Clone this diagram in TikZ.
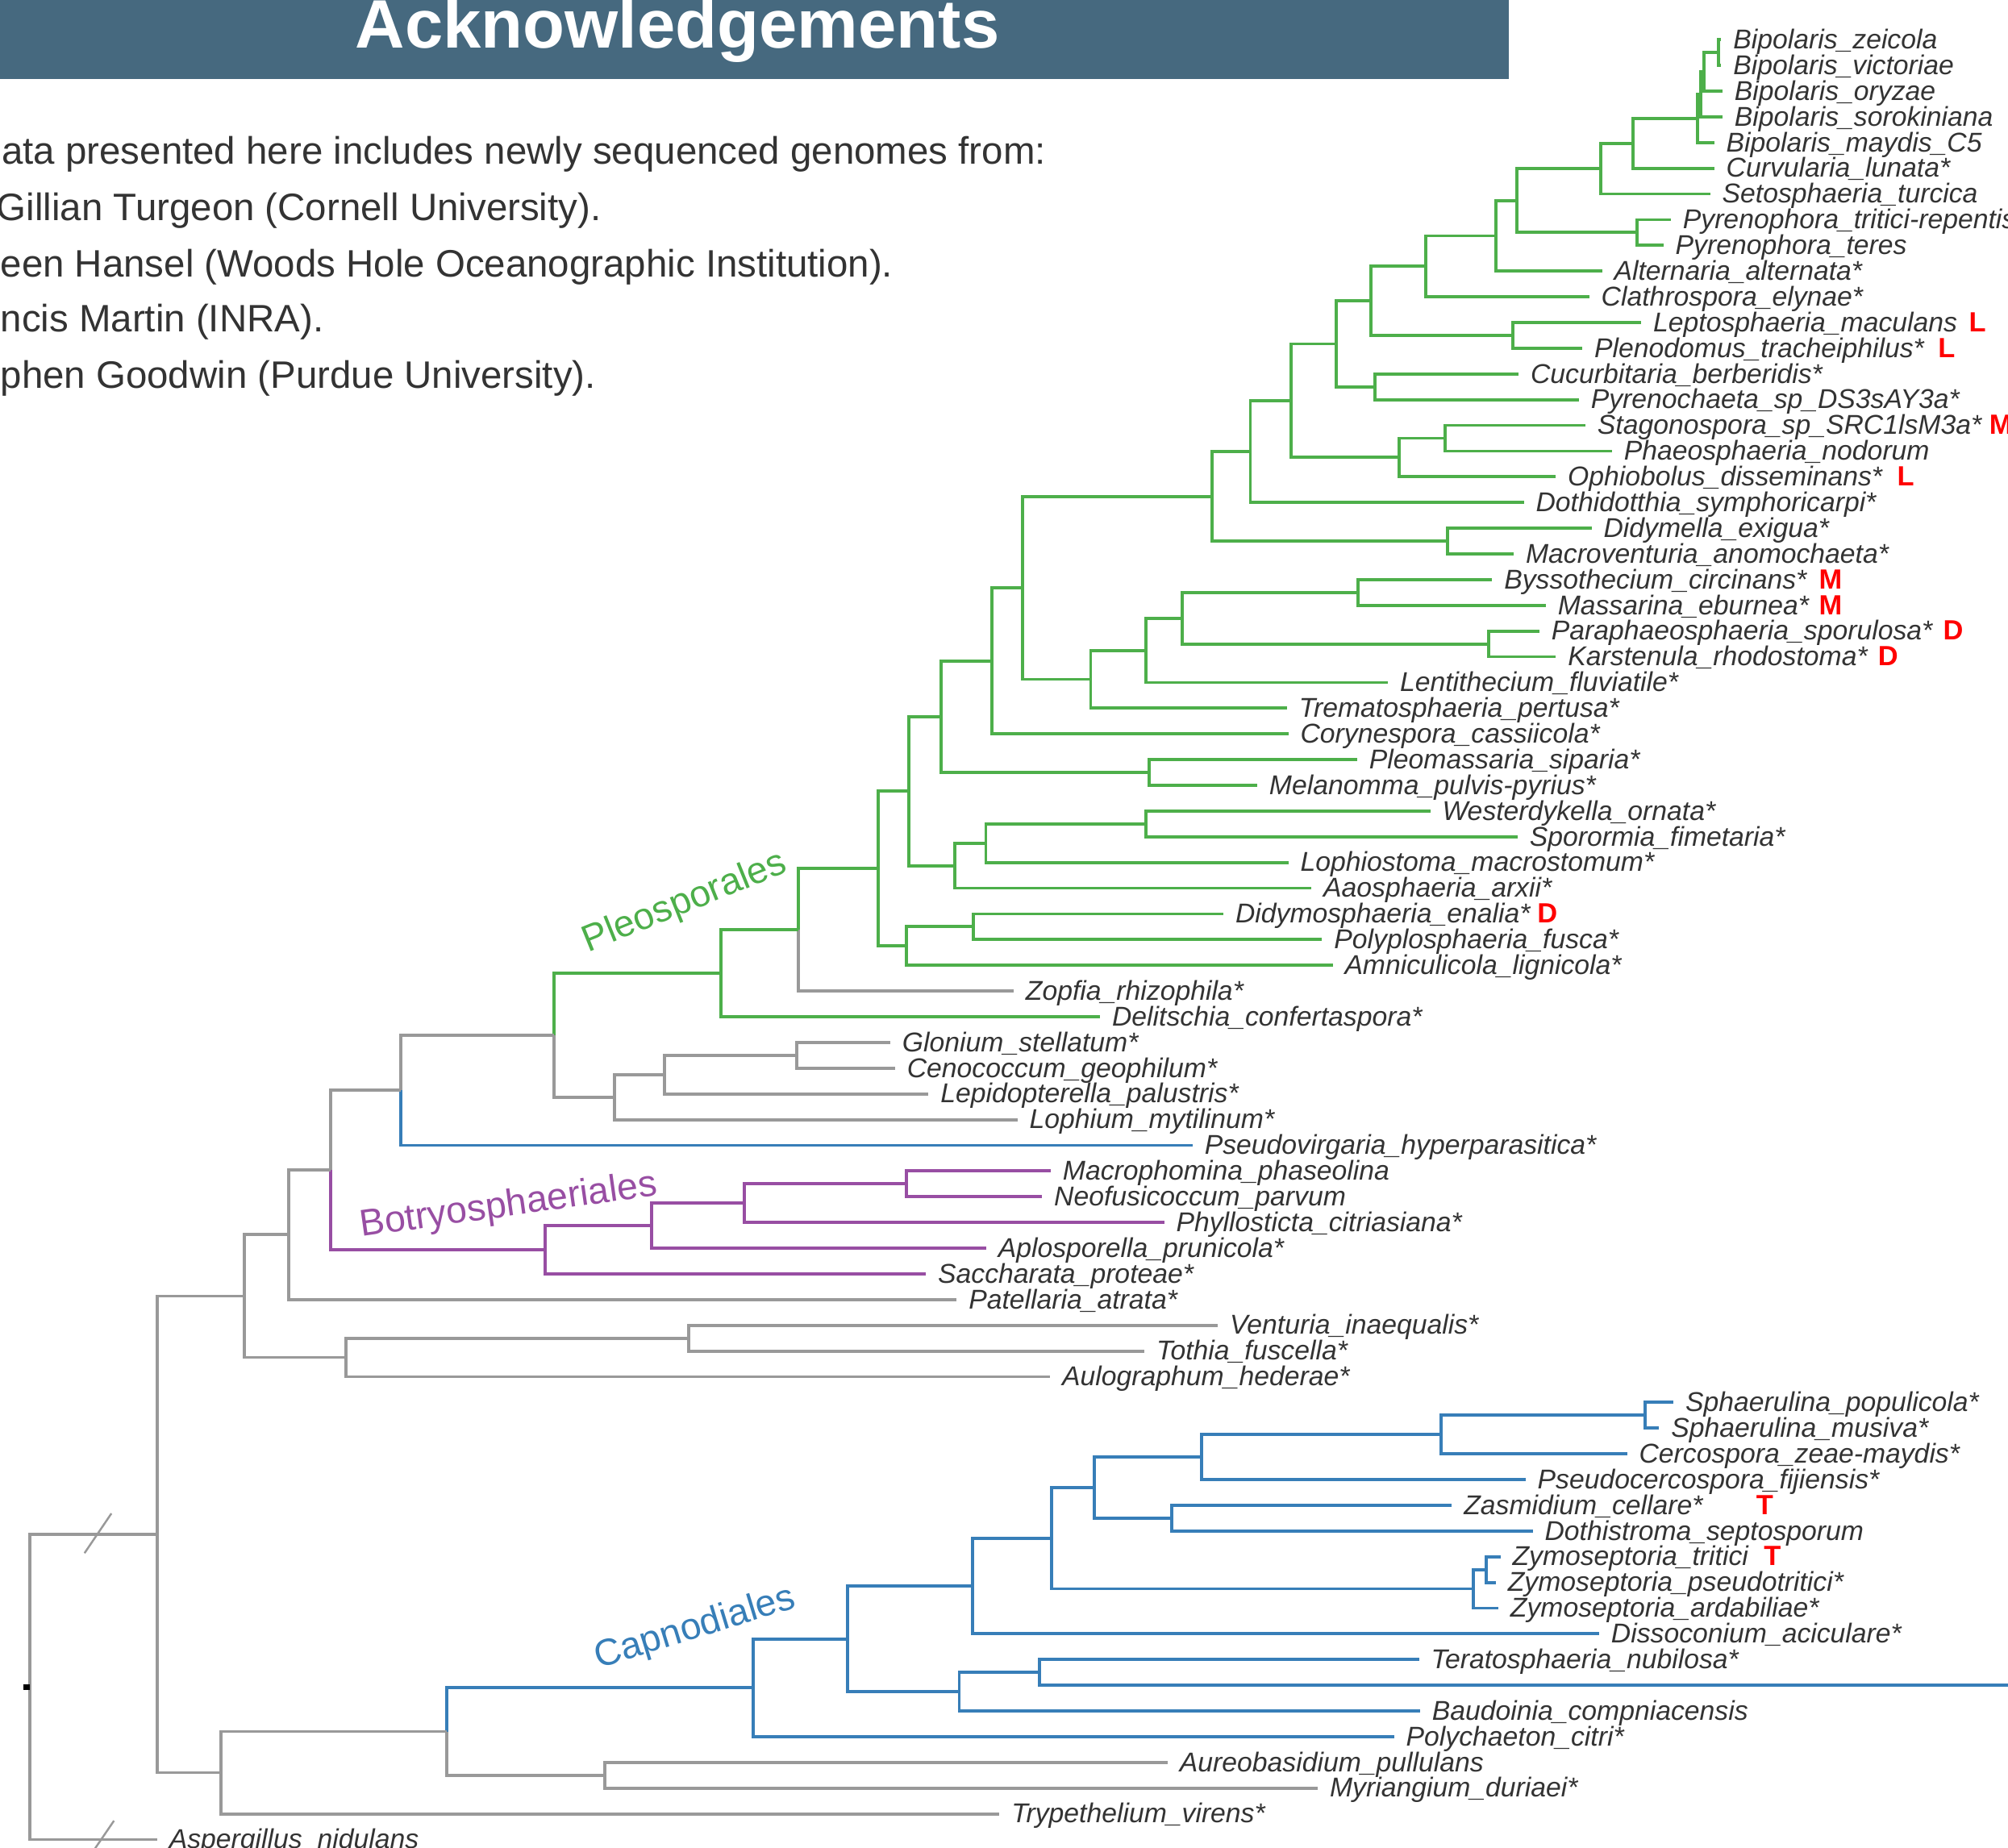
\documentclass[tikz,border=0pt]{standalone}
\usepackage{fontspec}
\setmainfont{Liberation Sans}
\usepackage{tikz}

\definecolor{pleo}{HTML}{4DAF4A}
\definecolor{capno}{HTML}{377EB8}
\definecolor{botry}{HTML}{984EA3}
\definecolor{stem}{HTML}{999999}
\definecolor{banner}{HTML}{46697F}
\definecolor{ink}{HTML}{333333}

\begin{document}
\begin{tikzpicture}[x=0.01588cm, y=-0.01588cm,
    leaf/.style={anchor=west, inner xsep=1.5mm, inner ysep=0pt, outer sep=0pt, text height=8.4pt, text depth=2pt, text=ink, font=\itshape\fontsize{9.6}{10}\selectfont},
    redtag/.style={anchor=west, inner sep=0pt, text height=8.4pt, text depth=2pt, text=red, font=\bfseries\fontsize{9.8}{10}\selectfont},
    clade/.style={anchor=base west, inner sep=0pt, font=\fontsize{13.2}{15}\selectfont},
    bodytext/.style={anchor=base west, inner sep=0pt, text=ink, font=\fontsize{13.5}{16}\selectfont},
    branch/.style={line width=1.1pt}]

\useasboundingbox (0, 0) rectangle (1568, 1443);
\fill[white] (0, 0) rectangle (1568, 1443);
\clip (0, 0) rectangle (1568, 1443);

\fill[banner] (0, 0) rectangle (1178, 62);
\node[anchor=base, inner sep=0pt, text=white, font=\bfseries\fontsize{24.2}{28}\selectfont] (title) at (529, 37.5) {Acknowledgements};

\node[bodytext] (line1) at (1, 128) {ata presented here includes newly sequenced genomes from:};
\node[bodytext] (line2) at (-3, 172) {Gillian Turgeon (Cornell University).};
\node[bodytext] (line3) at (0, 216) {een Hansel (Woods Hole Oceanographic Institution).};
\node[bodytext] (line4) at (0, 259) {ncis Martin (INRA).};
\node[bodytext] (line5) at (0, 303) {phen Goodwin (Purdue University).};

\begin{scope}[y=-0.31897cm, yshift=-0.17331cm]

\node[leaf] (zei) at (1344, 1) {Bipolaris\_zeicola};
\node[leaf] (vic) at (1344, 2) {Bipolaris\_victoriae};
\node[leaf] (ory) at (1345, 3) {Bipolaris\_oryzae};
\node[leaf] (sor) at (1345, 4) {Bipolaris\_sorokiniana};
\node[leaf] (may) at (1338.6, 5) {Bipolaris\_maydis\_C5};
\node[leaf] (cur) at (1338.6, 6) {Curvularia\_lunata*};
\node[leaf] (set) at (1335.4, 7) {Setosphaeria\_turcica};
\node[leaf] (ptr) at (1304.7, 8) {Pyrenophora\_tritici-repentis};
\node[leaf] (pte) at (1298.9, 9) {Pyrenophora\_teres};
\node[leaf] (alt) at (1251, 10) {Alternaria\_alternata*};
\node[leaf] (cla) at (1241, 11) {Clathrospora\_elynae*};
\node[leaf] (lep) at (1281.6, 12) {Leptosphaeria\_maculans};
\node[leaf] (ple) at (1235.6, 13) {Plenodomus\_tracheiphilus*};
\node[leaf] (cuc) at (1185.8, 14) {Cucurbitaria\_berberidis*};
\node[leaf] (pyr) at (1232.9, 15) {Pyrenochaeta\_sp\_DS3sAY3a*};
\node[leaf] (sta) at (1238, 16) {Stagonospora\_sp\_SRC1lsM3a*};
\node[leaf] (pha) at (1258.7, 17) {Phaeosphaeria\_nodorum};
\node[leaf] (oph) at (1214.8, 18) {Ophiobolus\_disseminans*};
\node[leaf] (dot) at (1189.9, 19) {Dothidotthia\_symphoricarpi*};
\node[leaf] (did) at (1242.8, 20) {Didymella\_exigua*};
\node[leaf] (mac) at (1182, 21) {Macroventuria\_anomochaeta*};
\node[leaf] (bys) at (1165.2, 22) {Byssothecium\_circinans*};
\node[leaf] (mas) at (1207, 23) {Massarina\_eburnea*};
\node[leaf] (par) at (1202, 24) {Paraphaeosphaeria\_sporulosa*};
\node[leaf] (kar) at (1215, 25) {Karstenula\_rhodostoma*};
\node[leaf] (len) at (1083.8, 26) {Lentithecium\_fluviatile*};
\node[leaf] (tre) at (1005, 27) {Trematosphaeria\_pertusa*};
\node[leaf] (cor) at (1006, 28) {Corynespora\_cassiicola*};
\node[leaf] (pls) at (1059.8, 29) {Pleomassaria\_siparia*};
\node[leaf] (mel) at (981.7, 30) {Melanomma\_pulvis-pyrius*};
\node[leaf] (wes) at (1116.8, 31) {Westerdykella\_ornata*};
\node[leaf] (spo) at (1185, 32) {Sporormia\_fimetaria*};
\node[leaf] (lop) at (1006, 33) {Lophiostoma\_macrostomum*};
\node[leaf] (aao) at (1024, 34) {Aaosphaeria\_arxii*};
\node[leaf] (dmo) at (955.3, 35) {Didymosphaeria\_enalia*};
\node[leaf] (pol) at (1032.4, 36) {Polyplosphaeria\_fusca*};
\node[leaf] (amn) at (1040.6, 37) {Amniculicola\_lignicola*};
\node[leaf] (zop) at (791.5, 38) {Zopfia\_rhizophila*};
\node[leaf] (del) at (859, 39) {Delitschia\_confertaspora*};
\node[leaf] (glo) at (695.2, 40) {Glonium\_stellatum*};
\node[leaf] (cen) at (698.9, 41) {Cenococcum\_geophilum*};
\node[leaf] (lpd) at (725, 42) {Lepidopterella\_palustris*};
\node[leaf] (lph) at (794.4, 43) {Lophium\_mytilinum*};
\node[leaf] (psv) at (931.2, 44) {Pseudovirgaria\_hyperparasitica*};
\node[leaf] (mph) at (820.5, 45) {Macrophomina\_phaseolina};
\node[leaf] (neo) at (813.7, 46) {Neofusicoccum\_parvum};
\node[leaf] (phy) at (909, 47) {Phyllosticta\_citriasiana*};
\node[leaf] (apl) at (770, 48) {Aplosporella\_prunicola*};
\node[leaf] (sac) at (723, 49) {Saccharata\_proteae*};
\node[leaf] (pat) at (747, 50) {Patellaria\_atrata*};
\node[leaf] (ven) at (951, 51) {Venturia\_inaequalis*};
\node[leaf] (tot) at (893.6, 52) {Tothia\_fuscella*};
\node[leaf] (aul) at (820, 53) {Aulographum\_hederae*};
\node[leaf] (spp) at (1306.7, 54) {Sphaerulina\_populicola*};
\node[leaf] (spm) at (1295.6, 55) {Sphaerulina\_musiva*};
\node[leaf] (cer) at (1270.5, 56) {Cercospora\_zeae-maydis*};
\node[leaf] (psc) at (1191.2, 57) {Pseudocercospora\_fijiensis*};
\node[leaf] (zas) at (1133.7, 58) {Zasmidium\_cellare*};
\node[leaf] (dth) at (1196.8, 59) {Dothistroma\_septosporum};
\node[leaf] (ztr) at (1171.6, 60) {Zymoseptoria\_tritici};
\node[leaf] (zps) at (1168, 61) {Zymoseptoria\_pseudotritici*};
\node[leaf] (zar) at (1170, 62) {Zymoseptoria\_ardabiliae*};
\node[leaf] (dis) at (1248.7, 63) {Dissoconium\_aciculare*};
\node[leaf] (ter) at (1108, 64) {Teratosphaeria\_nubilosa*};
\coordinate (t65) at (1650, 65);
\node[leaf] (bau) at (1108.8, 66) {Baudoinia\_compniacensis};
\node[leaf] (pch) at (1088.6, 67) {Polychaeton\_citri*};
\node[leaf] (aur) at (911.8, 68) {Aureobasidium\_pullulans};
\node[leaf] (myr) at (1029, 69) {Myriangium\_duriaei*};
\node[leaf] (try) at (780.5, 70) {Trypethelium\_virens*};
\node[leaf] (asp) at (122.7, 71) {Aspergillus\_nidulans};

\node[redtag] (tLep) at (1537, 12) {L};
\node[redtag] (tPle) at (1513, 13) {L};
\node[redtag] (tSta) at (1553, 16) {M};
\node[redtag] (tOph) at (1481, 18) {L};
\node[redtag] (tBys) at (1420, 22) {M};
\node[redtag] (tMas) at (1420, 23) {M};
\node[redtag] (tPar) at (1517, 24) {D};
\node[redtag] (tKar) at (1466, 25) {D};
\node[redtag] (tDmo) at (1200, 35) {D};
\node[redtag] (tZas) at (1371, 58) {T};
\node[redtag] (tZtr) at (1377, 60) {T};

\coordinate (nA1) at (1342, 1.5);      \coordinate (nA2) at (1330.6, 2.25);
\coordinate (nA3) at (1328, 3.125);    \coordinate (nA4) at (1325.3, 4.0625);
\coordinate (nA5) at (1275, 5.031);    \coordinate (nA6) at (1249.8, 6.016);
\coordinate (nPyr) at (1278.4, 8.5);   \coordinate (nA7) at (1184.7, 7.258);
\coordinate (nA8) at (1168, 8.629);    \coordinate (nA9) at (1113.3, 9.815);
\coordinate (nLep) at (1181.4, 12.5);  \coordinate (nA10) at (1070.5, 11.157);
\coordinate (nCuc) at (1073.9, 14.5);  \coordinate (nA11) at (1043.2, 12.829);
\coordinate (nSta) at (1128.3, 16.5);  \coordinate (nA12) at (1092.5, 17.25);
\coordinate (nA13) at (1008, 15.039);  \coordinate (nA14) at (976.4, 17.02);
\coordinate (nDid) at (1130.3, 20.5);  \coordinate (nA15) at (946.6, 18.76);
\coordinate (nBys) at (1060.7, 22.5);  \coordinate (nPar) at (1162.5, 24.5);
\coordinate (nB1) at (923, 23.5);      \coordinate (nB2) at (895, 24.75);
\coordinate (nB3) at (851.7, 25.875);  \coordinate (nB4) at (798.5, 22.318);
\coordinate (nB5) at (774.6, 25.159);  \coordinate (nPle) at (897.4, 29.5);
\coordinate (nB6) at (735, 27.33);     \coordinate (nWes) at (895, 31.5);
\coordinate (nB7) at (769.8, 32.25);   \coordinate (nB8) at (745.6, 33.125);
\coordinate (nB9) at (709.6, 30.227);  \coordinate (nDmo) at (760, 35.5);
\coordinate (nB10) at (707.8, 36.25);  \coordinate (nB11) at (685.8, 33.239);
\coordinate (nB12) at (623.2, 35.619); \coordinate (nB13) at (563.2, 37.31);
\coordinate (nGlo) at (622.2, 40.5);   \coordinate (nC1) at (518.8, 41.25);
\coordinate (nC2) at (479.7, 42.125);  \coordinate (nC3) at (432.6, 39.717);
\coordinate (nC4) at (313.2, 41.859);  \coordinate (nMac) at (707.8, 45.5);
\coordinate (nD1) at (581, 46.25);     \coordinate (nD2) at (509, 47.125);
\coordinate (nD3) at (425.5, 48.06);   \coordinate (nC5) at (258.4, 44.96);
\coordinate (nC6) at (225.5, 47.48);   \coordinate (nVen) at (537.7, 51.5);
\coordinate (nE1) at (270.4, 52.25);   \coordinate (nC7) at (190.6, 49.865);
\coordinate (nSph) at (1284.4, 54.5);  \coordinate (nF1) at (1125.3, 55.25);
\coordinate (nF2) at (938.3, 56.125);  \coordinate (nZas) at (914.9, 58.5);
\coordinate (nF3) at (854.5, 57.31);   \coordinate (nZt) at (1160.5, 60.5);
\coordinate (nZy) at (1150.4, 61.25);  \coordinate (nF4) at (821.1, 59.28);
\coordinate (nF5) at (759.6, 61.14);   \coordinate (nTer) at (811.8, 64.5);
\coordinate (nF6) at (749, 65.25);     \coordinate (nF7) at (662, 63.195);
\coordinate (nF8) at (588.4, 65.1);    \coordinate (nAur) at (472.4, 68.5);
\coordinate (nF9) at (348.7, 66.8);    \coordinate (nF10) at (172.3, 68.4);
\coordinate (nG1) at (122.7, 59.13);   \coordinate (nRoot) at (23.5, 65.07);
\coordinate (stub) at (18, 65.07);

% Pleosporales
\draw[branch, pleo] (nA1) |- (zei) (nA1) |- (vic);
\draw[branch, pleo] (nA2) |- (nA1) (nA2) |- (ory);
\draw[branch, pleo] (nA3) |- (nA2) (nA3) |- (sor);
\draw[branch, pleo] (nA4) |- (nA3) (nA4) |- (may);
\draw[branch, pleo] (nA5) |- (nA4) (nA5) |- (cur);
\draw[branch, pleo] (nA6) |- (nA5) (nA6) |- (set);
\draw[branch, pleo] (nPyr) |- (ptr) (nPyr) |- (pte);
\draw[branch, pleo] (nA7) |- (nA6) (nA7) |- (nPyr);
\draw[branch, pleo] (nA8) |- (nA7) (nA8) |- (alt);
\draw[branch, pleo] (nA9) |- (nA8) (nA9) |- (cla);
\draw[branch, pleo] (nLep) |- (lep) (nLep) |- (ple);
\draw[branch, pleo] (nA10) |- (nA9) (nA10) |- (nLep);
\draw[branch, pleo] (nCuc) |- (cuc) (nCuc) |- (pyr);
\draw[branch, pleo] (nA11) |- (nA10) (nA11) |- (nCuc);
\draw[branch, pleo] (nSta) |- (sta) (nSta) |- (pha);
\draw[branch, pleo] (nA12) |- (nSta) (nA12) |- (oph);
\draw[branch, pleo] (nA13) |- (nA11) (nA13) |- (nA12);
\draw[branch, pleo] (nA14) |- (nA13) (nA14) |- (dot);
\draw[branch, pleo] (nDid) |- (did) (nDid) |- (mac);
\draw[branch, pleo] (nA15) |- (nA14) (nA15) |- (nDid);
\draw[branch, pleo] (nBys) |- (bys) (nBys) |- (mas);
\draw[branch, pleo] (nPar) |- (par) (nPar) |- (kar);
\draw[branch, pleo] (nB1) |- (nBys) (nB1) |- (nPar);
\draw[branch, pleo] (nB2) |- (nB1) (nB2) |- (len);
\draw[branch, pleo] (nB3) |- (nB2) (nB3) |- (tre);
\draw[branch, pleo] (nB4) |- (nA15) (nB4) |- (nB3);
\draw[branch, pleo] (nB5) |- (nB4) (nB5) |- (cor);
\draw[branch, pleo] (nPle) |- (pls) (nPle) |- (mel);
\draw[branch, pleo] (nB6) |- (nB5) (nB6) |- (nPle);
\draw[branch, pleo] (nWes) |- (wes) (nWes) |- (spo);
\draw[branch, pleo] (nB7) |- (nWes) (nB7) |- (lop);
\draw[branch, pleo] (nB8) |- (nB7) (nB8) |- (aao);
\draw[branch, pleo] (nB9) |- (nB6) (nB9) |- (nB8);
\draw[branch, pleo] (nDmo) |- (dmo) (nDmo) |- (pol);
\draw[branch, pleo] (nB10) |- (nDmo) (nB10) |- (amn);
\draw[branch, pleo] (nB11) |- (nB9) (nB11) |- (nB10);
\draw[branch, pleo] (nB12) |- (nB11);
\draw[branch, stem] (nB12) |- (zop);
\draw[branch, pleo] (nB13) |- (nB12) (nB13) |- (del);
\draw[branch, pleo] (nC3) |- (nB13);

\draw[branch, stem] (nGlo) |- (glo) (nGlo) |- (cen);
\draw[branch, stem] (nC1) |- (nGlo) (nC1) |- (lpd);
\draw[branch, stem] (nC2) |- (nC1) (nC2) |- (lph);
\draw[branch, stem] (nC3) |- (nC2);
\draw[branch, stem] (nC4) |- (nC3);
\draw[branch, capno] (nC4) |- (psv);

% Botryosphaeriales
\draw[branch, botry] (nMac) |- (mph) (nMac) |- (neo);
\draw[branch, botry] (nD1) |- (nMac) (nD1) |- (phy);
\draw[branch, botry] (nD2) |- (nD1) (nD2) |- (apl);
\draw[branch, botry] (nD3) |- (nD2) (nD3) |- (sac);
\draw[branch, stem] (nC5) |- (nC4);
\draw[branch, botry] (nC5) |- (nD3);

\draw[branch, stem] (nC6) |- (nC5) (nC6) |- (pat);
\draw[branch, stem] (nVen) |- (ven) (nVen) |- (tot);
\draw[branch, stem] (nE1) |- (nVen) (nE1) |- (aul);
\draw[branch, stem] (nC7) |- (nC6) (nC7) |- (nE1);

% Capnodiales
\draw[branch, capno] (nSph) |- (spp) (nSph) |- (spm);
\draw[branch, capno] (nF1) |- (nSph) (nF1) |- (cer);
\draw[branch, capno] (nF2) |- (nF1) (nF2) |- (psc);
\draw[branch, capno] (nZas) |- (zas) (nZas) |- (dth);
\draw[branch, capno] (nF3) |- (nF2) (nF3) |- (nZas);
\draw[branch, capno] (nZt) |- (ztr) (nZt) |- (zps);
\draw[branch, capno] (nZy) |- (nZt) (nZy) |- (zar);
\draw[branch, capno] (nF4) |- (nF3) (nF4) |- (nZy);
\draw[branch, capno] (nF5) |- (nF4) (nF5) |- (dis);
\draw[branch, capno] (nTer) |- (ter) (nTer) |- (t65);
\draw[branch, capno] (nF6) |- (nTer) (nF6) |- (bau);
\draw[branch, capno] (nF7) |- (nF5) (nF7) |- (nF6);
\draw[branch, capno] (nF8) |- (nF7) (nF8) |- (pch);
\draw[branch, capno] (nF9) |- (nF8);

\draw[branch, stem] (nF9) |- (nAur);
\draw[branch, stem] (nAur) |- (aur) (nAur) |- (myr);
\draw[branch, stem] (nF10) |- (nF9) (nF10) |- (try);
\draw[branch, stem] (nG1) |- (nC7) (nG1) |- (nF10);
\draw[branch, stem] (nRoot) |- (nG1) (nRoot) |- (asp);
\draw[line width=2pt] (stub) -- (nRoot);

\end{scope}

\draw[stem, line width=0.7pt] (66, 1213) -- (87, 1182);
\draw[stem, line width=0.7pt] (74, 1444) -- (89, 1422);

\node[clade, text=pleo, rotate=22] (pleoName) at (459, 744) {Pleosporales};
\node[clade, text=botry, rotate=8] (botryName) at (282, 966) {Botryosphaeriales};
\node[clade, text=capno, rotate=17] (capnoName) at (467, 1303) {Capnodiales};

\end{tikzpicture}
\end{document}
